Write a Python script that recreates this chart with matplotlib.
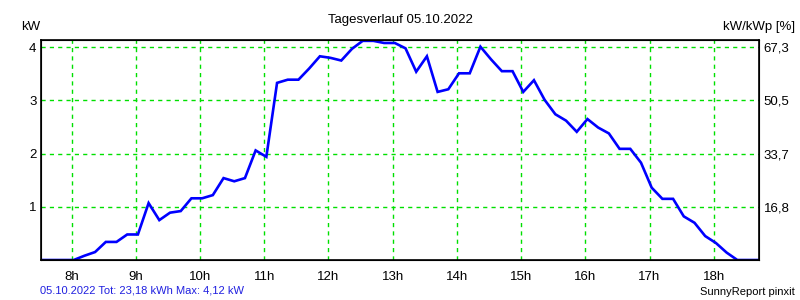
import matplotlib
matplotlib.use("Agg")
import matplotlib.pyplot as plt
import numpy as np

# 10-minute values, first sample at 07:32
START_HOUR = 7 + 32 / 60
POWER_KW = [
    0.0, 0.0, 0.0,
    0.0, 0.08, 0.15, 0.34, 0.34, 0.48, 0.48, 1.07, 0.75, 0.89, 0.92, 1.16,
    1.16, 1.22, 1.54, 1.48, 1.54, 2.06, 1.94, 3.33, 3.39, 3.39, 3.60, 3.83,
    3.80, 3.75, 3.97, 4.12, 4.12, 4.08, 4.08, 3.98, 3.54, 3.83, 3.16, 3.21,
    3.51, 3.51, 4.01, 3.77, 3.55, 3.55, 3.16, 3.38, 3.01, 2.74, 2.62, 2.41,
    2.65, 2.49, 2.38, 2.09, 2.09, 1.83, 1.36, 1.15, 1.15, 0.82, 0.70, 0.45,
    0.32, 0.14, 0.0,
    0.0, 0.0,
]
HOUR_TICKS = [8, 9, 10, 11, 12, 13, 14, 15, 16, 17, 18]
HOUR_LABELS = [f"{h}h" for h in HOUR_TICKS]
KW_TICKS = [1, 2, 3, 4]
PCT_LABELS = ["16,8", "33,7", "50,5", "67,3"]

TITLE = "Tagesverlauf 05.10.2022"
SUMMARY = "05.10.2022 Tot: 23,18 kWh Max: 4,12 kW"

plt.rcParams["font.family"] = ["Liberation Sans", "DejaVu Sans"]
plt.rcParams["font.size"] = 9

hours = START_HOUR + np.arange(len(POWER_KW)) / 6

fig = plt.figure(figsize=(8, 3), dpi=100)
ax = fig.add_axes([0.0509, 0.1333, 0.8983, 0.7323])
ax.plot(hours, POWER_KW, color="#0000ff", lw=1.9, solid_joinstyle="miter")
ax.set_xlim(7.52, 18.71)
ax.set_ylim(0, 4.13)

ax.set_xticks(HOUR_TICKS)
ax.set_xticklabels(HOUR_LABELS)
ax.set_yticks(KW_TICKS)
ax.set_yticklabels([str(v) for v in KW_TICKS])
ax.tick_params(axis="x", length=0, labelsize=9.5, pad=8)
ax.tick_params(axis="y", length=0, labelsize=9.5, pad=3)
ax.grid(True, color="#00e000", linestyle=(0, (3, 3)), lw=1)
for sp in ax.spines.values():
    sp.set_linewidth(1.2)

ax2 = ax.twinx()
ax2.set_ylim(ax.get_ylim())
ax2.set_yticks(KW_TICKS)
ax2.set_yticklabels(PCT_LABELS)
ax2.tick_params(length=0, labelsize=9.5, pad=3)

fig.text(0.5, 0.935, TITLE, ha="center", va="center", fontsize=9.5)
fig.text(0.038, 0.91, "kW", ha="center", va="center", fontsize=9.5)
fig.text(0.994, 0.91, "kW/kWp [%]", ha="right", va="center", fontsize=9.5)
fig.text(0.05, 0.033, SUMMARY, ha="left", va="center", fontsize=8, color="#2020e0")
fig.text(0.994, 0.027, "SunnyReport pinxit", ha="right", va="center", fontsize=8)

fig.savefig("out.png", dpi=100)
